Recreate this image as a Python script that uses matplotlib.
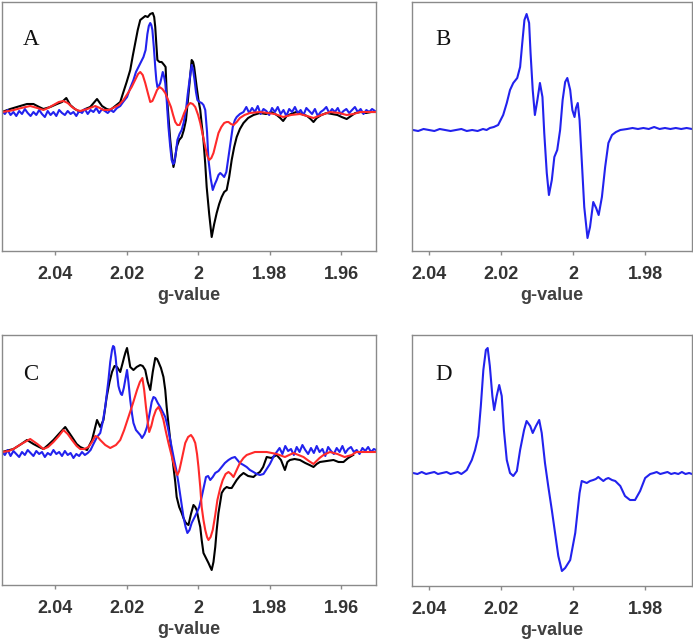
import matplotlib
matplotlib.use("Agg")
import matplotlib.pyplot as plt

# ---------------- Panel A ----------------
A_black_g = [2.0549, 2.0526, 2.0498, 2.0479, 2.0461, 2.0445, 2.0433, 2.0414, 2.0395, 2.0381,
             2.0369, 2.0358, 2.0345, 2.0330, 2.0316, 2.0302, 2.0283, 2.0269, 2.0256, 2.0246,
             2.0232, 2.0218, 2.0210, 2.0200, 2.0190, 2.0183, 2.0176, 2.0169, 2.0162, 2.0155,
             2.0148, 2.0141, 2.0134, 2.0127, 2.0123, 2.0120, 2.0117, 2.0114, 2.0108, 2.0102,
             2.0095, 2.0091, 2.0088, 2.0083, 2.0078, 2.0073, 2.0069, 2.0065, 2.0060, 2.0053,
             2.0046, 2.0040, 2.0034, 2.0029, 2.0024, 2.0018, 2.0014, 2.0011, 2.0004, 1.9999,
             1.9994, 1.9990, 1.9985, 1.9980, 1.9976, 1.9969, 1.9962, 1.9955, 1.9948, 1.9941,
             1.9934, 1.9927, 1.9920, 1.9913, 1.9906, 1.9899, 1.9892, 1.9883, 1.9873, 1.9860,
             1.9845, 1.9827, 1.9810, 1.9795, 1.9780, 1.9770, 1.9762, 1.9752, 1.9740, 1.9725,
             1.9710, 1.9695, 1.9685, 1.9677, 1.9668, 1.9655, 1.9640, 1.9625, 1.9610, 1.9598,
             1.9584, 1.9572, 1.9560, 1.9545, 1.9530, 1.9515, 1.9502]
A_black_y = [0, 3, 6, 8, 8, 5, 3, 5, 8, 10,
             14, 7, 3, 0, 3, 5, 13, 6, 3, 2,
             6, 10, 19, 30, 42, 56, 69, 82, 92, 94,
             96, 95, 98, 99, 95, 85, 68, 52, 50, 50,
             47, 45, 19, -5, -28, -45, -55, -48, -35, -28,
             -25, -18, -8, 10, 29, 52, 50, 45, 25, 12,
             2, -12, -28, -52, -75, -102, -125, -112, -101, -92,
             -85, -80, -78, -65, -48, -35, -25, -17, -11, -6,
             -3, -1, -2, 0, -3, -6, -9, -4, -2, 0,
             -2, -4, -7, -10, -6, -3, -1, -2, -3, -5,
             -7, -4, -1, 0, -1, 0, 0]

A_blue_g = [2.0549, 2.0541, 2.0533, 2.0525, 2.0517, 2.0509, 2.0501, 2.0493, 2.0485, 2.0477,
            2.0469, 2.0461, 2.0453, 2.0445, 2.0437, 2.0429, 2.0421, 2.0413, 2.0405, 2.0397,
            2.0389, 2.0381, 2.0373, 2.0365, 2.0357, 2.0349, 2.0341, 2.0333, 2.0325, 2.0317,
            2.0309, 2.0301, 2.0293, 2.0285, 2.0277, 2.0269, 2.0261, 2.0253, 2.0245, 2.0237,
            2.0227, 2.0218, 2.0210, 2.0199, 2.0190, 2.0181, 2.0174, 2.0167, 2.0160, 2.0153,
            2.0147, 2.0142, 2.0138, 2.0134, 2.0131, 2.0128, 2.0124, 2.0120, 2.0117, 2.0114,
            2.0110, 2.0106, 2.0102, 2.0099, 2.0095, 2.0092, 2.0088, 2.0083, 2.0078, 2.0074,
            2.0070, 2.0067, 2.0062, 2.0058, 2.0052, 2.0046, 2.0040, 2.0034, 2.0029, 2.0024,
            2.0021, 2.0018, 2.0014, 2.0010, 2.0006, 2.0002, 1.9996, 1.9990, 1.9985, 1.9980,
            1.9975, 1.9971, 1.9965, 1.9959, 1.9953, 1.9948, 1.9943, 1.9938, 1.9932, 1.9927,
            1.9921, 1.9915, 1.9909, 1.9903, 1.9897, 1.9892, 1.9883, 1.9873,
            1.9865, 1.9857, 1.9849, 1.9841, 1.9833, 1.9825, 1.9817, 1.9809, 1.9801, 1.9793,
            1.9785, 1.9777, 1.9769, 1.9761, 1.9753, 1.9745, 1.9737, 1.9729, 1.9721, 1.9713,
            1.9705, 1.9697, 1.9689, 1.9681, 1.9673, 1.9665, 1.9657, 1.9649, 1.9641, 1.9633,
            1.9625, 1.9617, 1.9609, 1.9601, 1.9593, 1.9585, 1.9577, 1.9569, 1.9561, 1.9553,
            1.9545, 1.9537, 1.9529, 1.9521, 1.9513, 1.9505]
A_blue_y = [1, -2, 2, -3, 0, -4, 1, -2, 3, -1,
            -4, 0, -3, 2, -2, -5, 1, -3, 0, -4,
            2, -1, -3, 1, -2, 0, -4, 1, -1, 3,
            -2, 2, 0, 4, -1, 3, 1, -1, 2, 0,
            4, 6, 10, 15, 24, 32, 40, 45, 50, 55,
            62, 78, 86, 89, 87, 82, 65, 45, 32, 25,
            26, 29, 35, 40, 35, 29, 12, -15, -35, -48,
            -52, -51, -40, -28, -22, -18, -10, 2, 18, 32,
            40, 47, 42, 32, 20, 12, 10, 9, 7, 2,
            -20, -48, -66, -78, -72, -68, -63, -61, -63, -65,
            -60, -45, -30, -15, -8, -5, -2, 0,
            5, -1, 4, 0, 6, -2, 3, 1, -3, 4,
            0, 5, -2, 2, -4, 3, 0, 5, -1, 2,
            -3, 4, 1, -2, 3, -4, 0, 2, 5, -1,
            3, 0, 4, -2, 1, 3, -1, 2, 5, 0,
            3, -2, 2, 0, 3, 1]

A_red_g = [2.0549, 2.0530, 2.0516, 2.0495, 2.0470, 2.0450, 2.0433, 2.0420, 2.0405, 2.0390,
           2.0377, 2.0365, 2.0353, 2.0340, 2.0330, 2.0310, 2.0288, 2.0275, 2.0265, 2.0250,
           2.0238, 2.0222, 2.0209, 2.0198, 2.0186, 2.0175, 2.0168, 2.0162, 2.0155, 2.0148,
           2.0140, 2.0134, 2.0128, 2.0123, 2.0115, 2.0108, 2.0100, 2.0092, 2.0084, 2.0076,
           2.0070, 2.0064, 2.0058, 2.0052, 2.0045, 2.0039, 2.0030, 2.0022, 2.0015, 2.0008,
           2.0000, 1.9994, 1.9987, 1.9980, 1.9974, 1.9969, 1.9963, 1.9957, 1.9950, 1.9943,
           1.9935, 1.9927, 1.9920, 1.9915, 1.9908, 1.9901, 1.9892, 1.9883, 1.9870, 1.9855,
           1.9827, 1.9805, 1.9785, 1.9762, 1.9740, 1.9715, 1.9695, 1.9677, 1.9655, 1.9631,
           1.9605, 1.9584, 1.9565, 1.9547, 1.9525, 1.9502]
A_red_y = [0, 1, 2, 4, 6, 4, 2, 4, 7, 10,
           11, 9, 5, 2, 1, 3, 6, 4, 2, 2,
           4, 7, 12, 18, 25, 33, 38, 40, 37, 29,
           18, 10, 11, 15, 22, 25, 23, 19, 12, 5,
           -3, -10, -13, -13, -7, -1, 6, 9, 8, 5,
           -3, -11, -23, -35, -44, -48, -46, -41, -31, -21,
           -15, -11, -10, -10, -12, -13, -10, -6, -3, -1,
           0, -1, -2, -5, -3, -2, -4, -6, -3, 0,
           -1, -3, -2, 0, 0, 0]

# ---------------- Panel B ----------------
B_blue_g = [2.0444, 2.0430, 2.0415, 2.0400, 2.0385, 2.0370, 2.0355, 2.0340, 2.0325, 2.0310,
            2.0295, 2.0280, 2.0265, 2.0250, 2.0240, 2.0231, 2.0220, 2.0208, 2.0194, 2.0184,
            2.0175, 2.0166, 2.0155, 2.0147, 2.0141, 2.0135, 2.0129, 2.0122, 2.0118, 2.0112,
            2.0106, 2.0099, 2.0092, 2.0085, 2.0080, 2.0073, 2.0067, 2.0059, 2.0052, 2.0044,
            2.0036, 2.0029, 2.0022, 2.0016, 2.0008, 2.0002, 1.9996, 1.9992, 1.9987, 1.9982,
            1.9976, 1.9969, 1.9960, 1.9953, 1.9944, 1.9936, 1.9929, 1.9920, 1.9911, 1.9902,
            1.9892, 1.9881, 1.9869, 1.9850, 1.9835, 1.9820, 1.9805, 1.9790, 1.9775, 1.9760,
            1.9745, 1.9730, 1.9715, 1.9700, 1.9685, 1.9670]
B_blue_y = [0, -1, 1, 0, -1, 1, 0, -1, 0, 1,
            -1, 0, -1, 1, 0, 2, 3, 5, 15, 27,
            40, 47, 52, 63, 87, 110, 116, 107, 77, 40,
            15, 30, 47, 33, -3, -43, -65, -50, -27, -20,
            0, 30, 48, 52, 40, 20, 13, 22, 27, 10,
            -30, -77, -108, -97, -72, -78, -85, -67, -37, -13,
            -5, -2, 0, 1, 2, 1, 2, 1, 3, 1,
            2, 1, 2, 1, 2, 1]

# ---------------- Panel C ----------------
C_black_g = [2.0549, 2.0517, 2.0495, 2.0479, 2.0461, 2.0445, 2.0433, 2.0420, 2.0405, 2.0390,
             2.0372, 2.0353, 2.0340, 2.0330, 2.0311, 2.0297, 2.0283, 2.0274, 2.0265, 2.0256,
             2.0248, 2.0241, 2.0234, 2.0227, 2.0218, 2.0212, 2.0207, 2.0203, 2.0199, 2.0195,
             2.0190, 2.0181, 2.0172, 2.0162, 2.0155, 2.0148, 2.0141, 2.0134, 2.0127, 2.0120,
             2.0115, 2.0111, 2.0104, 2.0097, 2.0092, 2.0088, 2.0083, 2.0078, 2.0073, 2.0069,
             2.0064, 2.0060, 2.0053, 2.0046, 2.0041, 2.0036, 2.0031, 2.0027, 2.0020, 2.0013,
             2.0008, 2.0004, 1.9999, 1.9994, 1.9990, 1.9985, 1.9978, 1.9971, 1.9966, 1.9962,
             1.9957, 1.9952, 1.9948, 1.9943, 1.9938, 1.9934, 1.9927, 1.9920, 1.9913, 1.9906,
             1.9899, 1.9892, 1.9883, 1.9873, 1.9860, 1.9845, 1.9836, 1.9827, 1.9818, 1.9808,
             1.9795, 1.9780, 1.9768, 1.9757, 1.9750, 1.9743, 1.9730, 1.9715, 1.9700, 1.9688,
             1.9677, 1.9668, 1.9659, 1.9640, 1.9621, 1.9607, 1.9593, 1.9580, 1.9566]
C_black_y = [0, 3, 8, 12, 8, 5, 3, 7, 12, 18,
             25, 15, 8, 5, 2, 12, 32, 25, 32, 55,
             70, 80, 86, 85, 80, 88, 95, 100, 104, 96,
             85, 82, 85, 87, 86, 82, 70, 62, 80, 94,
             93, 90, 84, 75, 62, 45, 28, 12, -2, -15,
             -30, -45, -55, -61, -66, -70, -72, -73, -62, -53,
             -55, -58, -67, -75, -88, -101, -106, -111, -115, -118,
             -110, -95, -78, -61, -50, -41, -37, -35, -36, -36,
             -32, -28, -24, -21, -24, -25, -22, -20, -15, -5,
             -6, -3, -8, -18, -10, -8, -7, -8, -11, -13,
             -15, -12, -10, -9, -8, -10, -10, -6, -3]

C_blue_g = [2.0549, 2.0541, 2.0533, 2.0525, 2.0517, 2.0509, 2.0501, 2.0493, 2.0485, 2.0477,
            2.0469, 2.0461, 2.0453, 2.0445, 2.0437, 2.0429, 2.0421, 2.0413, 2.0405, 2.0397,
            2.0389, 2.0381, 2.0373, 2.0365, 2.0357, 2.0349, 2.0341, 2.0333, 2.0325, 2.0317,
            2.0309, 2.0301,
            2.0293, 2.0283, 2.0274, 2.0267, 2.0260, 2.0255, 2.0251, 2.0246, 2.0241, 2.0238,
            2.0235, 2.0231, 2.0227, 2.0223, 2.0220, 2.0216, 2.0213, 2.0208, 2.0204, 2.0201,
            2.0199, 2.0195, 2.0190, 2.0185, 2.0181, 2.0174, 2.0167, 2.0162, 2.0157, 2.0150,
            2.0143, 2.0136, 2.0130, 2.0125, 2.0120, 2.0113, 2.0106, 2.0099, 2.0092, 2.0085,
            2.0078, 2.0072, 2.0067, 2.0061, 2.0055, 2.0048, 2.0041, 2.0035, 2.0030, 2.0024,
            2.0018, 2.0011, 2.0004, 1.9997, 1.9990, 1.9984, 1.9978, 1.9972, 1.9966, 1.9959,
            1.9952, 1.9943, 1.9934, 1.9925, 1.9915, 1.9906, 1.9897, 1.9890, 1.9883, 1.9873,
            1.9864, 1.9855, 1.9845, 1.9836, 1.9827, 1.9817, 1.9808, 1.9799, 1.9788,
            1.9780, 1.9772, 1.9764, 1.9756, 1.9748, 1.9740, 1.9732, 1.9724, 1.9716, 1.9708,
            1.9700, 1.9692, 1.9684, 1.9676, 1.9668, 1.9660, 1.9652, 1.9644, 1.9636, 1.9628,
            1.9620, 1.9612, 1.9604, 1.9596, 1.9588, 1.9580, 1.9572, 1.9564, 1.9556, 1.9548,
            1.9540, 1.9532, 1.9524, 1.9516, 1.9508, 1.9502]
C_blue_y = [0, -3, 2, -4, 1, -2, -5, 0, -3, 2,
            -1, -4, 1, -2, 0, -5, -1, -3, 2, -2,
            0, -4, 1, -3, -1, -6, -2, -4, 0, -3,
            -1, 2,
            8, 15, 19, 30, 45, 60, 72, 90, 102, 106,
            105, 95, 79, 66, 62, 58, 57, 64, 72, 78,
            82, 70, 52, 38, 29, 22, 19, 17, 14, 18,
            25, 38, 50, 55, 54, 49, 45, 40, 35, 25,
            12, 1, -8, -18, -31, -48, -65, -75, -81, -78,
            -71, -66, -61, -55, -45, -35, -25, -24, -28, -25,
            -21, -19, -15, -11, -8, -6, -5, -8, -11, -13,
            -15, -18, -20, -22, -23, -22, -17, -12, -4,
            0, 4, -2, 6, 1, 3, -3, 5, 0, 7,
            2, -2, 4, -1, 6, 0, 3, -4, 5, 1,
            -2, 4, 0, 6, -1, 3, 5, 0, 2, -2,
            4, 1, 5, 0, 3, 2]

C_red_g = [2.0549, 2.0530, 2.0517, 2.0495, 2.0470, 2.0450, 2.0433, 2.0420, 2.0405, 2.0390,
           2.0377, 2.0365, 2.0353, 2.0340, 2.0330, 2.0318, 2.0307, 2.0297, 2.0288, 2.0281,
           2.0274, 2.0260, 2.0246, 2.0230, 2.0218, 2.0207, 2.0195, 2.0183, 2.0171, 2.0163,
           2.0156, 2.0151, 2.0146, 2.0141, 2.0137, 2.0131, 2.0125, 2.0118, 2.0111, 2.0104,
           2.0097, 2.0090, 2.0083, 2.0076, 2.0069, 2.0063, 2.0058, 2.0053, 2.0048, 2.0042,
           2.0036, 2.0028, 2.0020, 2.0014, 2.0008, 2.0003, 1.9999, 1.9994, 1.9990, 1.9985,
           1.9980, 1.9975, 1.9971, 1.9965, 1.9959, 1.9952, 1.9946, 1.9938, 1.9931, 1.9923,
           1.9915, 1.9908, 1.9901, 1.9892, 1.9883, 1.9873, 1.9864, 1.9841, 1.9808, 1.9780,
           1.9757, 1.9733, 1.9705, 1.9690, 1.9677, 1.9660, 1.9649, 1.9631, 1.9610, 1.9590,
           1.9570, 1.9557, 1.9530, 1.9502]
C_red_y = [0, 1, 3, 8, 13, 8, 3, 5, 10, 16,
           22, 18, 12, 6, 3, 3, 5, 10, 16, 15,
           12, 7, 4, 7, 12, 22, 35, 48, 62, 70,
           74, 62, 45, 30, 20, 26, 35, 42, 45, 40,
           32, 20, 9, -1, -11, -19, -23, -19, -11, -1,
           9, 15, 17, 14, 9, -2, -15, -35, -55, -68,
           -78, -85, -88, -85, -78, -63, -48, -36, -28, -22,
           -20, -22, -25, -18, -11, -6, -3, 0, 0, -2,
           -5, -1, -5, -9, -12, -6, -3, 0, -2, -5,
           -3, 0, 0, 0]

# ---------------- Panel D ----------------
D_blue_g = [2.0444, 2.0432, 2.0420, 2.0408, 2.0397, 2.0385, 2.0375, 2.0363, 2.0351, 2.0340,
            2.0330, 2.0320, 2.0310, 2.0302, 2.0295, 2.0281, 2.0272, 2.0263, 2.0256, 2.0249,
            2.0242, 2.0237, 2.0231, 2.0224, 2.0219, 2.0212, 2.0205, 2.0198, 2.0192, 2.0184,
            2.0175, 2.0166, 2.0156, 2.0147, 2.0136, 2.0129, 2.0119, 2.0112, 2.0103, 2.0094,
            2.0087, 2.0078, 2.0069, 2.0059, 2.0050, 2.0041, 2.0031, 2.0022, 2.0008, 1.9994,
            1.9982, 1.9976, 1.9969, 1.9962, 1.9953, 1.9944, 1.9937, 1.9930, 1.9923, 1.9916,
            1.9909, 1.9902, 1.9892, 1.9883, 1.9869, 1.9856, 1.9842, 1.9828, 1.9814, 1.9800,
            1.9786, 1.9776, 1.9768, 1.9758, 1.9748, 1.9738, 1.9728, 1.9718, 1.9708, 1.9698,
            1.9688, 1.9678, 1.9670]
D_blue_y = [0, -1, 1, -1, 0, 1, -1, 0, 1, -1,
            0, 1, -1, 1, 3, 13, 23, 37, 67, 103,
            123, 125, 107, 77, 63, 77, 88, 77, 43, 13,
            0, -3, 2, 23, 43, 52, 47, 40, 47, 53,
            40, 10, -13, -37, -60, -83, -98, -95, -87, -60,
            -20, -8, -9, -10, -8, -7, -6, -4, -6, -8,
            -6, -5, -7, -8, -13, -23, -27, -27, -18, -5,
            -1, 0, 1, -1, 0, 1, -1, 0, -1, 1,
            -1, 0, -1]

TICKS_ACD = [2.04, 2.02, 2.00, 1.98, 1.96]
TICKLABELS_ACD = ["2.04", "2.02", "2", "1.98", "1.96"]
TICKS_BD = [2.04, 2.02, 2.00, 1.98]
TICKLABELS_BD = ["2.04", "2.02", "2", "1.98"]

W, H = 693, 639
fig = plt.figure(figsize=(W / 100, H / 100), dpi=100)

BLUE = "#2222ee"
RED = "#ff2a2a"
BLACK = "#000000"
SPINE = "#8a8a8a"
TXT = "#333333"


def make_ax(left, top, right, bottom):
    return fig.add_axes([left / W, 1 - bottom / H, (right - left) / W, (bottom - top) / H])


def style(ax, xlim, ylim, ticks, labels):
    ax.set_xlim(*xlim)
    ax.set_ylim(*ylim)
    ax.set_yticks([])
    ax.set_xticks(ticks)
    ax.set_xticklabels(labels, fontsize=13, fontweight="bold", color=TXT,
                       family="Liberation Sans")
    ax.tick_params(axis="x", length=3, width=1, color=SPINE, pad=8)
    for s in ax.spines.values():
        s.set_color(SPINE)
        s.set_linewidth(1.0)
    ax.set_xlabel("g-value", fontsize=13, fontweight="bold", color="#404040",
                  family="Liberation Sans", labelpad=3)


LW = 1.5
KW = dict(lw=LW, solid_joinstyle="round")

axA = make_ax(2, 2, 376, 251)
axA.plot(A_black_g, A_black_y, color=BLACK, **KW)
axA.plot(A_blue_g, A_blue_y, color=BLUE, **KW)
axA.plot(A_red_g, A_red_y, color=RED, **KW)
style(axA, (2.0549, 1.9502), (-139, 110), TICKS_ACD, TICKLABELS_ACD)

axB = make_ax(412, 2, 692, 251)
axB.plot(B_blue_g, B_blue_y, color=BLUE, **KW)
style(axB, (2.0447, 1.9670), (-121, 128), TICKS_BD, TICKLABELS_BD)

axC = make_ax(2, 335, 376, 585)
axC.plot(C_black_g, C_black_y, color=BLACK, **KW)
axC.plot(C_blue_g, C_blue_y, color=BLUE, **KW)
axC.plot(C_red_g, C_red_y, color=RED, **KW)
style(axC, (2.0549, 1.9502), (-133, 117), TICKS_ACD, TICKLABELS_ACD)

axD = make_ax(412, 335, 692, 586)
axD.plot(D_blue_g, D_blue_y, color=BLUE, **KW)
style(axD, (2.0447, 1.9670), (-113, 138), TICKS_BD, TICKLABELS_BD)

for lab, px, py in [("A", 23, 45), ("B", 435, 45), ("C", 23, 380), ("D", 435, 380)]:
    fig.text(px / W, 1 - py / H, lab, fontsize=16.5, family="Liberation Serif",
             va="baseline", ha="left", color="#111111")

fig.savefig("out.png", dpi=100)
